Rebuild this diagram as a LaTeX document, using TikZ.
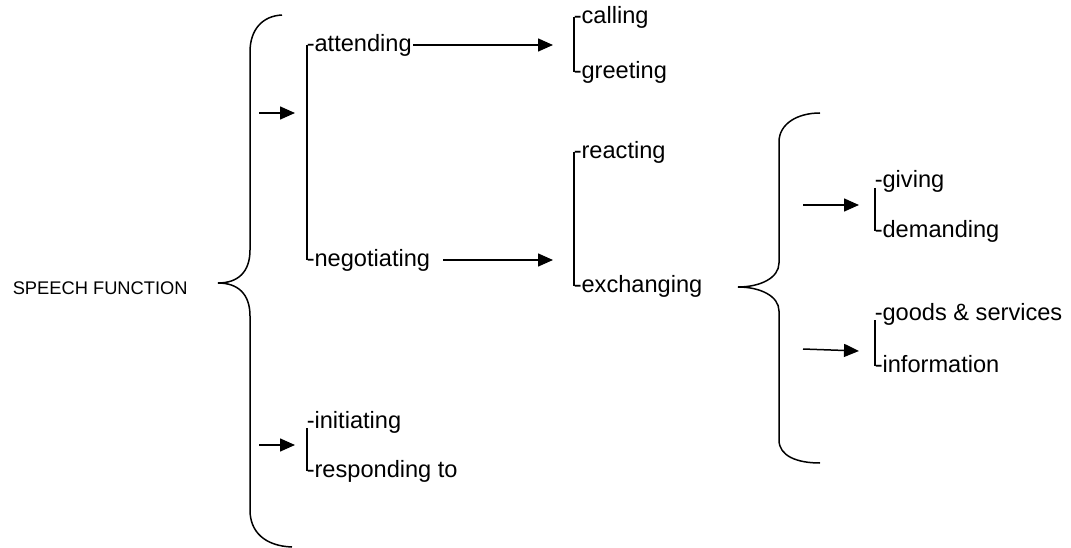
\documentclass[tikz,border=0pt]{standalone}
\usepackage{fontspec}
\setmainfont{Liberation Sans}
\usetikzlibrary{arrows.meta}
\begin{document}
\begin{tikzpicture}[x=1pt,y=-1pt,
  line width=1.5pt,
  txt/.style={anchor=base west,inner sep=0pt,font=\fontsize{23.6}{28}\selectfont},
  small/.style={anchor=base west,inner sep=0pt,font=\fontsize{18.3}{22}\selectfont},
  arr/.style={-{Triangle[length=15pt,width=13pt]}},
  brk/.style={line width=1.5pt}]
\useasboundingbox (0,0) rectangle (1071,548);
% texts
\node[small] (sf) at (12,294) {SPEECH FUNCTION};
\node[txt] (att) at (306,52) {-attending};
\node[txt] (neg) at (306,266) {-negotiating};
\node[txt] (ini) at (306,428) {-initiating};
\node[txt] (res) at (306,477) {-responding to};
\node[txt] (cal) at (573,24) {-calling};
\node[txt] (gre) at (573,79) {-greeting};
\node[txt] (rea) at (573,159) {-reacting};
\node[txt] (exc) at (573,292) {-exchanging};
\node[txt] (giv) at (874,188) {-giving};
\node[txt] (dem) at (874,238) {-demanding};
\node[txt] (goo) at (874,320) {-goods \& services};
\node[txt] (inf) at (874,372) {-information};
% arrow tips and tails
\coordinate (t1) at (553,45);
\coordinate (s2) at (443,260);
\coordinate (t2) at (553,260);
\coordinate (s3) at (259,113);
\coordinate (t3) at (295,113);
\coordinate (s4) at (259,445);
\coordinate (t4) at (295,445);
\coordinate (s5) at (803,205);
\coordinate (t5) at (859,205);
\coordinate (s6) at (803,349);
\coordinate (t6) at (859,351);
% brackets
\draw[brk] ([xshift=1pt,yshift=6.5pt]att.base west) -- ([xshift=1pt,yshift=6.5pt]neg.base west);
\draw[brk] ([xshift=1pt,yshift=6.5pt]cal.base west) -- ([xshift=1pt,yshift=6.5pt]gre.base west);
\draw[brk] ([xshift=1pt,yshift=6.5pt]rea.base west) -- ([xshift=1pt,yshift=6.5pt]exc.base west);
\draw[brk] ([xshift=1pt]ini.base west) -- ([xshift=1pt,yshift=6.5pt]res.base west);
\draw[brk] ([xshift=1pt]giv.base west) -- ([xshift=1pt,yshift=6.5pt]dem.base west);
\draw[brk] ([xshift=1pt]goo.base west) -- ([xshift=1pt,yshift=6.5pt]inf.base west);
% arrows
\draw[arr] ([xshift=1pt,yshift=7pt]att.base east) -- (t1);
\draw[arr] (s2) -- (t2);
\draw[arr] (s3) -- (t3);
\draw[arr] (s4) -- (t4);
\draw[arr] (s5) -- (t5);
\draw[arr] (s6) -- (t6);
% big left brace
\draw (282,15) .. controls (262,16) and (250,30) .. (250,52)
  -- (250,250) .. controls (250,272) and (238,283) .. (218,283)
  .. controls (238,283) and (250,294) .. (250,316)
  -- (250,510) .. controls (250,532) and (265,546) .. (292,547);
% right-side brace
\draw (820,113) .. controls (797,113) and (779,124) .. (779,142)
  -- (779,263) .. controls (779,278) and (760,287) .. (738,287)
  .. controls (760,287) and (779,296) .. (779,311)
  -- (779,440) .. controls (779,456) and (797,463) .. (820,463);
\end{tikzpicture}
\end{document}
